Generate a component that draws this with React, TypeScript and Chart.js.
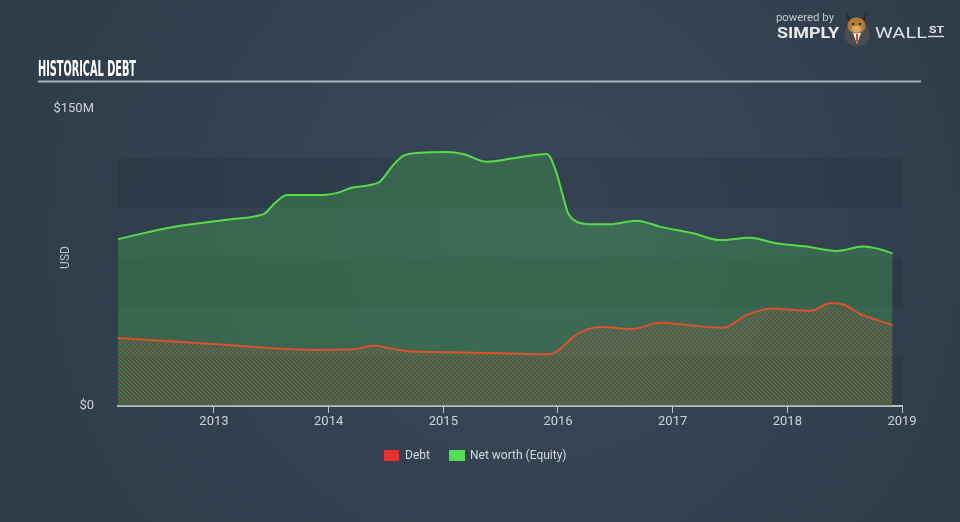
import React, { useEffect, useRef } from 'react';
import { Chart, registerables } from 'chart.js';

Chart.register(...registerables);

// ---- Data (decimal years, values in $M) ----
const debtYears = [2012.163, 2012.991, 2013.636, 2013.924, 2014.214, 2014.403, 2014.534, 2014.68, 2015.086, 2015.522, 2015.929, 2016.104, 2016.13, 2016.365, 2016.653, 2016.888, 2017.124, 2017.438, 2017.647, 2017.874, 2018.049, 2018.197, 2018.388, 2018.501, 2018.632, 2018.806, 2018.917];
const debtValues = [34.3, 31.3, 28.8, 28.3, 28.6, 30.5, 29.1, 27.8, 27.1, 26.6, 26.1, 33.3, 34.8, 39.9, 38.9, 42.0, 40.9, 39.5, 46.0, 49.3, 48.5, 48.0, 52.0, 51.0, 46.5, 43.0, 40.9];

const equityYears = [2012.163, 2012.643, 2013.166, 2013.375, 2013.445, 2013.532, 2013.636, 2013.95, 2014.098, 2014.186, 2014.36, 2014.447, 2014.563, 2014.65, 2014.796, 2015.029, 2015.173, 2015.377, 2015.609, 2015.901, 2015.929, 2015.988, 2016.045, 2016.089, 2016.162, 2016.278, 2016.452, 2016.685, 2016.888, 2017.179, 2017.411, 2017.673, 2017.905, 2018.167, 2018.429, 2018.661, 2018.778, 2018.917];
const equityValues = [84.3, 90.4, 94.4, 96.0, 97.3, 102.5, 106.6, 106.6, 108.0, 110.0, 111.6, 113.3, 121.7, 126.3, 127.9, 128.3, 127.3, 123.4, 125.1, 127.3, 126.0, 117.5, 105.7, 97.3, 93.1, 91.8, 91.8, 93.6, 90.6, 87.2, 83.8, 85.0, 82.2, 80.5, 78.3, 80.5, 79.6, 77.1];

const seriesNames = ['Debt', 'Net worth (Equity)'];
const xTickYears = [2013, 2014, 2015, 2016, 2017, 2018, 2019];
const yTickValues = [0, 150];
const yTickLabels = ['$0', '$150M'];
const bandRanges = [[0, 25], [50, 75], [100, 125]];

const FONT = 'Roboto, "Open Sans", sans-serif';

function fitText(ctx: CanvasRenderingContext2D, text: string, x: number, y: number, targetW: number) {
  const w = ctx.measureText(text).width;
  ctx.save();
  ctx.translate(x, y);
  ctx.scale(targetW / w, 1);
  ctx.fillText(text, 0, 0);
  ctx.restore();
}

const decorPlugin = {
  id: 'decor',
  beforeDraw(chart: any) {
    const { ctx, width, height, chartArea, scales } = chart;
    ctx.save();
    const g = ctx.createRadialGradient(560, 200, 40, 480, 261, 640);
    g.addColorStop(0, '#384757');
    g.addColorStop(1, '#2d3946');
    ctx.fillStyle = g;
    ctx.fillRect(0, 0, width, height);
    const y = scales.y;
    ctx.fillStyle = 'rgba(22,32,44,0.16)';
    for (const [a, b] of bandRanges) {
      const t = y.getPixelForValue(b);
      const bt = y.getPixelForValue(a);
      ctx.fillRect(chartArea.left, t, chartArea.right - chartArea.left, bt - t);
    }
    ctx.restore();
  },
  afterDraw(chart: any) {
    const { ctx, chartArea } = chart;
    ctx.save();
    // Title
    ctx.fillStyle = '#ffffff';
    ctx.textBaseline = 'alphabetic';
    ctx.textAlign = 'left';
    ctx.font = 'bold 21px "DejaVu Sans Condensed", "DejaVu Sans", sans-serif';
    fitText(ctx, 'HISTORICAL DEBT', 38, 75.5, 98);
    ctx.strokeStyle = '#a9b1bb';
    ctx.lineWidth = 2;
    ctx.beginPath();
    ctx.moveTo(38, 81.5);
    ctx.lineTo(921, 81.5);
    ctx.stroke();

    // USD axis title
    ctx.save();
    ctx.translate(66, (chartArea.top + chartArea.bottom) / 2);
    ctx.rotate(-Math.PI / 2);
    ctx.textAlign = 'center';
    ctx.textBaseline = 'middle';
    ctx.fillStyle = '#b9c0ca';
    ctx.font = '12px ' + FONT;
    ctx.fillText('USD', 0, 0);
    ctx.restore();

    // Legend
    ctx.textBaseline = 'middle';
    ctx.textAlign = 'left';
    ctx.font = '12px ' + FONT;
    ctx.fillStyle = '#e6302c';
    ctx.fillRect(384, 450, 15, 11);
    ctx.fillStyle = '#d5d9df';
    ctx.fillText(seriesNames[0], 405, 456);
    ctx.fillStyle = '#52e052';
    ctx.fillRect(449, 450, 16, 11);
    ctx.fillStyle = '#d5d9df';
    ctx.fillText(seriesNames[1], 470, 456);

    // Logo
    ctx.textBaseline = 'alphabetic';
    ctx.fillStyle = '#c3c8cf';
    ctx.font = '11px ' + FONT;
    fitText(ctx, 'powered by', 776, 21, 58);
    ctx.fillStyle = '#e9ebee';
    ctx.font = 'bold 15px ' + FONT;
    fitText(ctx, 'SIMPLY', 777, 37.5, 62);
    ctx.fillStyle = '#dfe2e6';
    ctx.font = '15px ' + FONT;
    fitText(ctx, 'WALL', 875, 37.5, 52);
    ctx.font = 'bold 9px ' + FONT;
    fitText(ctx, 'ST', 929, 33, 15);
    ctx.strokeStyle = '#dfe2e6';
    ctx.lineWidth = 1.3;
    ctx.beginPath();
    ctx.moveTo(928, 36.5);
    ctx.lineTo(944, 36.5);
    ctx.stroke();
    // bull
    ctx.fillStyle = '#4b4d52';
    ctx.beginPath();
    ctx.arc(857, 34, 12.5, 0, Math.PI * 2);
    ctx.fill();
    ctx.fillStyle = '#f2f2f2';
    ctx.beginPath();
    ctx.moveTo(853, 33);
    ctx.lineTo(861, 33);
    ctx.lineTo(857, 44);
    ctx.closePath();
    ctx.fill();
    ctx.fillStyle = '#d9482b';
    ctx.fillRect(856, 34, 2, 8);
    ctx.fillStyle = '#2a2b2e';
    ctx.beginPath();
    ctx.moveTo(848, 22);
    ctx.lineTo(846, 12);
    ctx.lineTo(851, 19);
    ctx.closePath();
    ctx.fill();
    ctx.beginPath();
    ctx.moveTo(865, 22);
    ctx.lineTo(867, 12);
    ctx.lineTo(862, 19);
    ctx.closePath();
    ctx.fill();
    ctx.fillStyle = '#b37b34';
    ctx.beginPath();
    ctx.ellipse(856.5, 25.5, 9, 8, 0, 0, Math.PI * 2);
    ctx.fill();
    ctx.fillStyle = '#d9a867';
    ctx.beginPath();
    ctx.ellipse(856.5, 29, 5, 3.2, 0, 0, Math.PI * 2);
    ctx.fill();
    ctx.fillStyle = '#222';
    ctx.fillRect(852, 23, 2, 2);
    ctx.fillRect(859, 23, 2, 2);
    ctx.restore();
  },
};

export default function App() {
  const ref = useRef<HTMLCanvasElement | null>(null);

  useEffect(() => {
    const canvas = ref.current!;
    const ctx = canvas.getContext('2d')!;
    const tile = document.createElement('canvas');
    tile.width = 4;
    tile.height = 4;
    const tg = tile.getContext('2d')!;
    tg.strokeStyle = 'rgba(205,82,48,0.68)';
    tg.lineWidth = 1;
    tg.beginPath();
    for (const k of [-4, 0, 4]) {
      tg.moveTo(k, 0);
      tg.lineTo(k + 4, 4);
    }
    tg.stroke();
    const hatch = ctx.createPattern(tile, 'repeat')!;

    const chart = new Chart(ctx, {
      type: 'line',
      data: {
        datasets: [
          {
            label: seriesNames[0],
            data: debtYears.map((x, i) => ({ x, y: debtValues[i] })),
            borderColor: '#e0502c',
            borderWidth: 2,
            backgroundColor: hatch as any,
            fill: 'origin',
            pointRadius: 0,
            cubicInterpolationMode: 'monotone',
          },
          {
            label: seriesNames[1],
            data: equityYears.map((x, i) => ({ x, y: equityValues[i] })),
            borderColor: '#55dc48',
            borderWidth: 2,
            backgroundColor: 'rgba(70,165,82,0.38)',
            fill: 'origin',
            pointRadius: 0,
            cubicInterpolationMode: 'monotone',
          },
        ],
      },
      options: {
        animation: false,
        responsive: false,
        devicePixelRatio: 1,
        layout: { padding: { left: 0, right: 58, top: 109, bottom: 76 } },
        plugins: {
          legend: { display: false },
          tooltip: { enabled: false },
        },
        scales: {
          x: {
            type: 'linear',
            min: 2012.163,
            max: 2019,
            afterBuildTicks: (s: any) => {
              s.ticks = xTickYears.map((v) => ({ value: v }));
            },
            afterFit: (s: any) => {
              s.height = 40;
            },
            grid: { display: true, drawOnChartArea: false, drawTicks: true, tickLength: 7, color: '#b9c2cc', lineWidth: 1 },
            border: { display: true, color: '#b9c2cc', width: 2 },
            ticks: {
              color: '#cdd3da',
              font: { family: FONT, size: 13 },
              padding: 1,
              maxRotation: 0,
              autoSkip: false,
              callback: (v: any) => String(v),
            },
          },
          y: {
            min: 0,
            max: 150,
            afterBuildTicks: (s: any) => {
              s.ticks = yTickValues.map((v) => ({ value: v }));
            },
            afterFit: (s: any) => {
              s.width = 118;
            },
            grid: { display: false },
            border: { display: false },
            ticks: {
              color: '#cdd3da',
              font: { family: FONT, size: 13 },
              padding: 16,
              callback: (v: any) => yTickLabels[yTickValues.indexOf(Number(v))],
            },
          },
        },
      },
      plugins: [decorPlugin],
    } as any);

    return () => chart.destroy();
  }, []);

  return (
    <div style={{ position: 'fixed', left: 0, top: 0, width: 960, height: 522 }}>
      <canvas ref={ref} width={960} height={522} style={{ display: 'block', width: 960, height: 522 }} />
    </div>
  );
}
